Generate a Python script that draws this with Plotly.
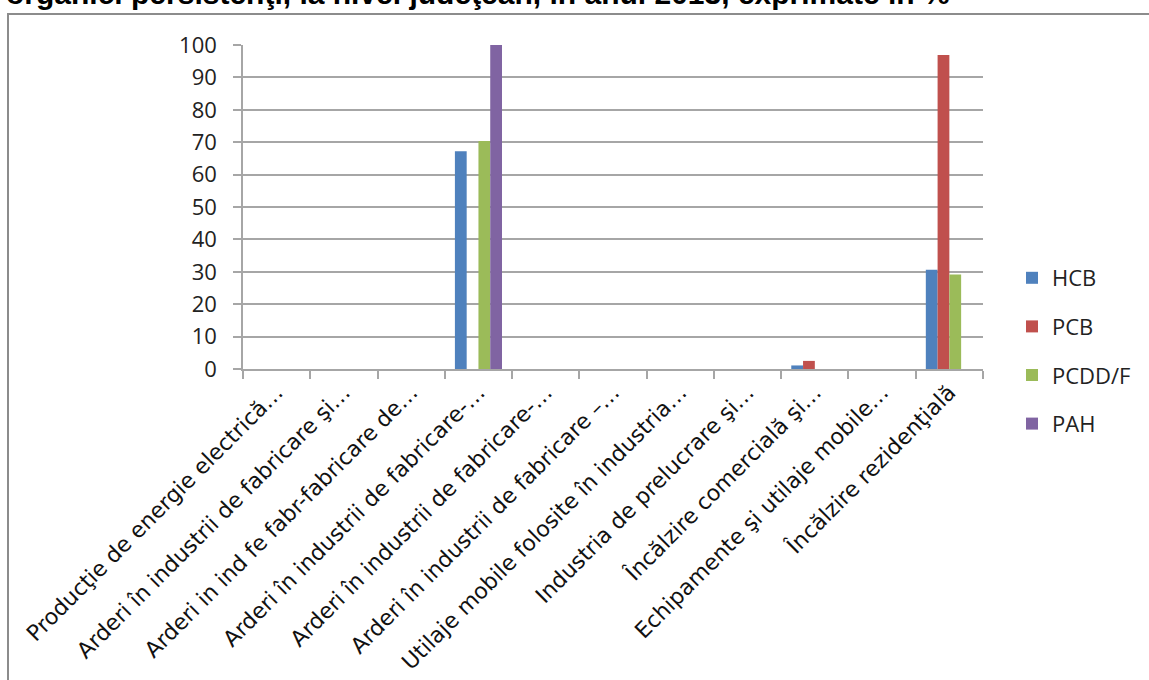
import plotly.graph_objects as go

# Sector labels (x axis), truncated as in the source report
categories = [
    "Producţie de energie electrică…",
    "Arderi în industrii de fabricare şi…",
    "Arderi in ind fe fabr-fabricare de…",
    "Arderi în industrii de fabricare-…",
    "Arderi în industrii de fabricare-…",
    "Arderi în industrii de fabricare –…",
    "Utilaje mobile folosite în industria…",
    "Industria de prelucrare şi…",
    "Încălzire comercială şi…",
    "Echipamente şi utilaje mobile…",
    "Încălzire rezidenţială",
]

# Share of each pollutant per sector, %
hcb = [0, 0, 0, 67.2, 0, 0, 0, 0, 1.1, 0, 30.6]
pcb = [0, 0, 0, 0, 0, 0, 0, 0, 2.5, 0, 96.9]
pcdd_f = [0, 0, 0, 70.4, 0, 0, 0, 0, 0, 0, 29.2]
pah = [0, 0, 0, 100, 0, 0, 0, 0, 0, 0, 0]

series_names = ["HCB", "PCB", "PCDD/F", "PAH"]
series_values = [hcb, pcb, pcdd_f, pah]
series_colors = ["#4F81BD", "#C0504D", "#9BBB59", "#8064A2"]

y_ticks = list(range(0, 101, 10))

W, H = 1149, 680
ML, MR, MT, MB = 243, 166, 45, 311
PW, PH = W - ML - MR, H - MT - MB


def paper_x(px):
    return (px - ML) / PW


def paper_y(py):
    return 1 - (py - MT) / PH


GRID = "#a6a6a6"
positions = list(range(len(categories)))

fig = go.Figure()
for name, vals, color in zip(series_names, series_values, series_colors):
    fig.add_trace(go.Bar(
        x=positions, y=vals, name=name, legendgroup=name,
        marker=dict(color=color, line=dict(width=0)),
    ))

fig.update_layout(
    width=W, height=H, autosize=False,
    margin=dict(l=ML, r=MR, t=MT, b=MB, pad=0, autoexpand=False),
    paper_bgcolor="white", plot_bgcolor="white",
    barmode="group", bargap=0.30, bargroupgap=0,
    showlegend=True,
    legend=dict(
        x=paper_x(1012), y=paper_y(257), xanchor="left", yanchor="top",
        font=dict(family="Open Sans", size=22, color="#222"),
        tracegroupgap=17, itemwidth=30, bgcolor="rgba(0,0,0,0)",
    ),
    xaxis=dict(
        automargin=False,
        range=[-0.5, len(categories) - 0.5],
        tickmode="array", tickvals=positions, ticktext=categories,
        ticks="outside", ticklen=0, tickcolor="rgba(0,0,0,0)",
        tickangle=-45,
        tickfont=dict(family="DejaVu Sans", size=22, color="#111"),
        showgrid=False, zeroline=False,
        showline=True, linecolor=GRID, linewidth=1.5,
        minor=dict(
            tickmode="array",
            tickvals=[p - 0.5 for p in positions] + [positions[-1] + 0.5],
            ticks="outside", ticklen=8, tickcolor=GRID, tickwidth=1.5,
            showgrid=False,
        ),
    ),
    yaxis=dict(
        automargin=False,
        range=[0, 100], tickmode="array", tickvals=y_ticks,
        ticks="outside", ticklen=8, tickcolor=GRID, tickwidth=1.5,
        ticklabelstandoff=12,
        tickfont=dict(family="Open Sans", size=22, color="#222"),
        showgrid=True, gridcolor=GRID, gridwidth=1.5,
        zeroline=False, showline=True, linecolor=GRID, linewidth=1.5,
    ),
    shapes=[dict(
        type="rect", xref="paper", yref="paper", layer="below",
        x0=paper_x(8), x1=paper_x(W + 40), y0=paper_y(14), y1=paper_y(H + 40),
        line=dict(color="#8c8c8c", width=2), fillcolor="rgba(0,0,0,0)",
    )],
    annotations=[dict(
        text="<b>organici persistenţi, la nivel judeţean, în anul 2013, exprimate în %</b>",
        xref="paper", yref="paper", x=paper_x(4), y=paper_y(-6),
        xanchor="left", yanchor="middle", showarrow=False,
        font=dict(family="Liberation Sans", size=30, color="black"),
    )],
)

fig.write_html("out.html")
